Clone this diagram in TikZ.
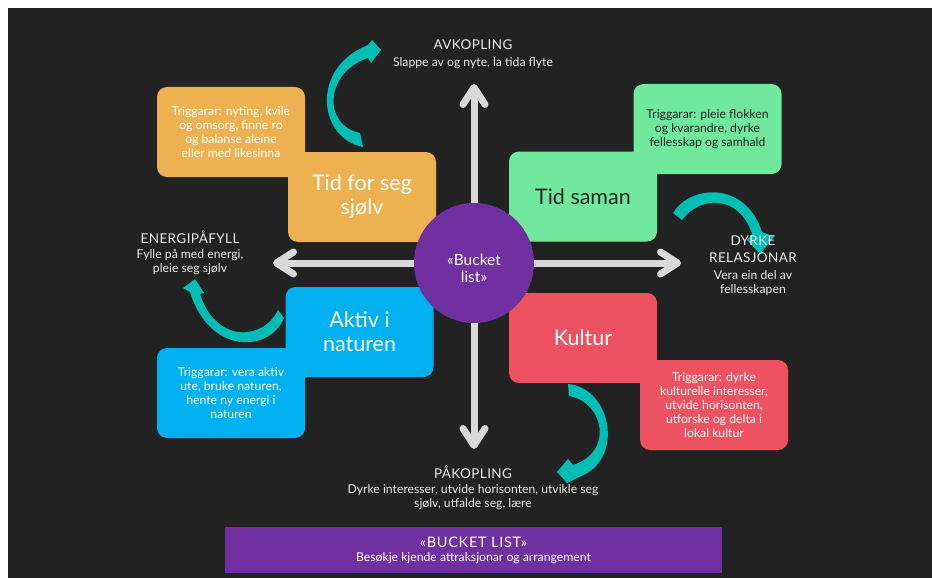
\documentclass[tikz,border=0pt]{standalone}
\usepackage{fontspec}
\setmainfont{Lato}
\usetikzlibrary{arrows.meta}
\definecolor{bgdark}{RGB}{34,34,34}
\definecolor{axisgray}{RGB}{217,217,217}
\definecolor{labelgray}{RGB}{235,235,235}
\definecolor{swoosh}{RGB}{0,190,180}
\definecolor{boxorange}{RGB}{237,177,82}
\definecolor{boxgreen}{RGB}{112,232,158}
\definecolor{boxblue}{RGB}{0,176,240}
\definecolor{boxred}{RGB}{238,82,96}
\definecolor{hubpurple}{RGB}{112,48,160}
\definecolor{darktext}{RGB}{38,38,38}
\newcommand\mainsize{\fontsize{21.5}{24}\selectfont}
\newcommand\trigsize{\fontsize{12.2}{14}\selectfont}
\newcommand\headsize{\fontsize{13.5}{17}\selectfont\addfontfeature{LetterSpace=3}}
\newcommand\subsize{\fontsize{12.2}{13.5}\selectfont}
\begin{document}
\begin{tikzpicture}[x=1pt, y=-1pt,
    box/.style={rounded corners=10pt, minimum width=148pt, minimum height=90pt, inner sep=0pt, align=center},
    mainbox/.style={box, font=\mainsize},
    trigbox/.style={box, font=\trigsize},
    head/.style={text=labelgray, font=\headsize, align=center},
    sub/.style={text=labelgray, font=\subsize, align=center},
    axis/.style={draw=axisgray, line width=7pt, -{Straight Barb[round, length=17pt, width=22pt]}}]
    \useasboundingbox (0,0) rectangle (932,578);
    \fill[white] (0,0) rectangle (932,578);
    \fill[bgdark] (8,8) rectangle (932,578);

    \coordinate (c) at (474,263);
    \coordinate (up) at (474,84);
    \coordinate (down) at (474,449);
    \coordinate (left) at (273,263);
    \coordinate (right) at (681,263);
    \draw[axis] (c) -- (up);
    \draw[axis] (c) -- (down);
    \draw[axis] (c) -- (left);
    \draw[axis] (c) -- (right);

    \fill[swoosh] (363,147) .. controls (318,138) and (310,68) .. (368,45) -- (372,40) -- (381,50)
        -- (371,63) -- (368,58) .. controls (325,72) and (322,125) .. (360,133) -- cycle;
    \fill[swoosh] (673,213) .. controls (690,185) and (745,180) .. (762,232) -- (774,237) -- (760,254)
        -- (747,240) -- (752,234) .. controls (740,195) and (700,195) .. (682,220) -- cycle;
    \fill[swoosh] (284,318) .. controls (270,352) and (210,356) .. (190,292) -- (183,288) -- (195,279)
        -- (204,293) -- (200,294) .. controls (215,342) and (262,342) .. (278,310) -- cycle;
    \fill[swoosh] (568,384) .. controls (612,388) and (625,460) .. (579,477) -- (567,483) -- (557,472)
        -- (568,459) -- (573,465) .. controls (614,452) and (604,402) .. (569,396) -- cycle;

    \node[trigbox, fill=boxorange, text=white] (selftrig) at (231,132)
        {Triggarar: nyting, kvile\\og omsorg, finne ro\\og balanse aleine\\eller med likesinna};
    \node[mainbox, fill=boxorange, text=white] (self) at (362,197) {Tid for seg\\sjølv};
    \node[trigbox, fill=boxgreen, text=darktext] (togtrig) at (707.5,129)
        {Triggarar: pleie flokken\\og kvarandre, dyrke\\fellesskap og samhald};
    \node[mainbox, fill=boxgreen, text=darktext] (tog) at (583,196.5) {Tid saman};
    \node[trigbox, fill=boxblue, text=white] (naturetrig) at (231,393)
        {Triggarar: vera aktiv\\ute, bruke naturen,\\hente ny energi i\\naturen};
    \node[mainbox, fill=boxblue, text=white] (nature) at (359.5,332) {Aktiv i\\naturen};
    \node[trigbox, fill=boxred, text=white] (culttrig) at (714,405)
        {Triggarar: dyrke\\kulturelle interesser,\\utvide horisonten,\\utforske og delta i\\lokal kultur};
    \node[mainbox, fill=boxred, text=white] (cult) at (583,338) {Kultur};

    \node[circle, fill=hubpurple, minimum size=120pt] (hub) at (c) {};
    \node[text=white, align=center, font=\fontsize{15.5}{17}\selectfont] (hubtext) at (474,268) {«Bucket\\list»};

    \node[head] (avk) at (473,45) {AVKOPLING};
    \node[sub] (avksub) at (473,63) {Slappe av og nyte, la tida flyte};
    \node[head] (energy) at (190,237) {ENERGIPÅFYLL};
    \node[sub] (energysub) at (190,262) {Fylle på med energi,\\pleie seg sjølv};
    \node[head] (rel) at (753,249.5) {DYRKE\\RELASJONAR};
    \node[sub] (relsub) at (753,283) {Vera ein del av\\fellesskapen};
    \node[head] (pak) at (473,472) {PÅKOPLING};
    \node[sub] (paksub) at (473,497) {Dyrke interesser, utvide horisonten, utvikle seg\\sjølv, utfalde seg, lære};

    \node[fill=hubpurple, minimum width=497pt, minimum height=46pt, inner sep=0pt, align=center,
        text=white] (bucket) at (473.5,550)
        {{\fontsize{14.5}{17}\selectfont\addfontfeature{LetterSpace=5}«BUCKET LIST»}\\[2pt]{\subsize Besøkje kjende attraksjonar og arrangement}};
\end{tikzpicture}
\end{document}
